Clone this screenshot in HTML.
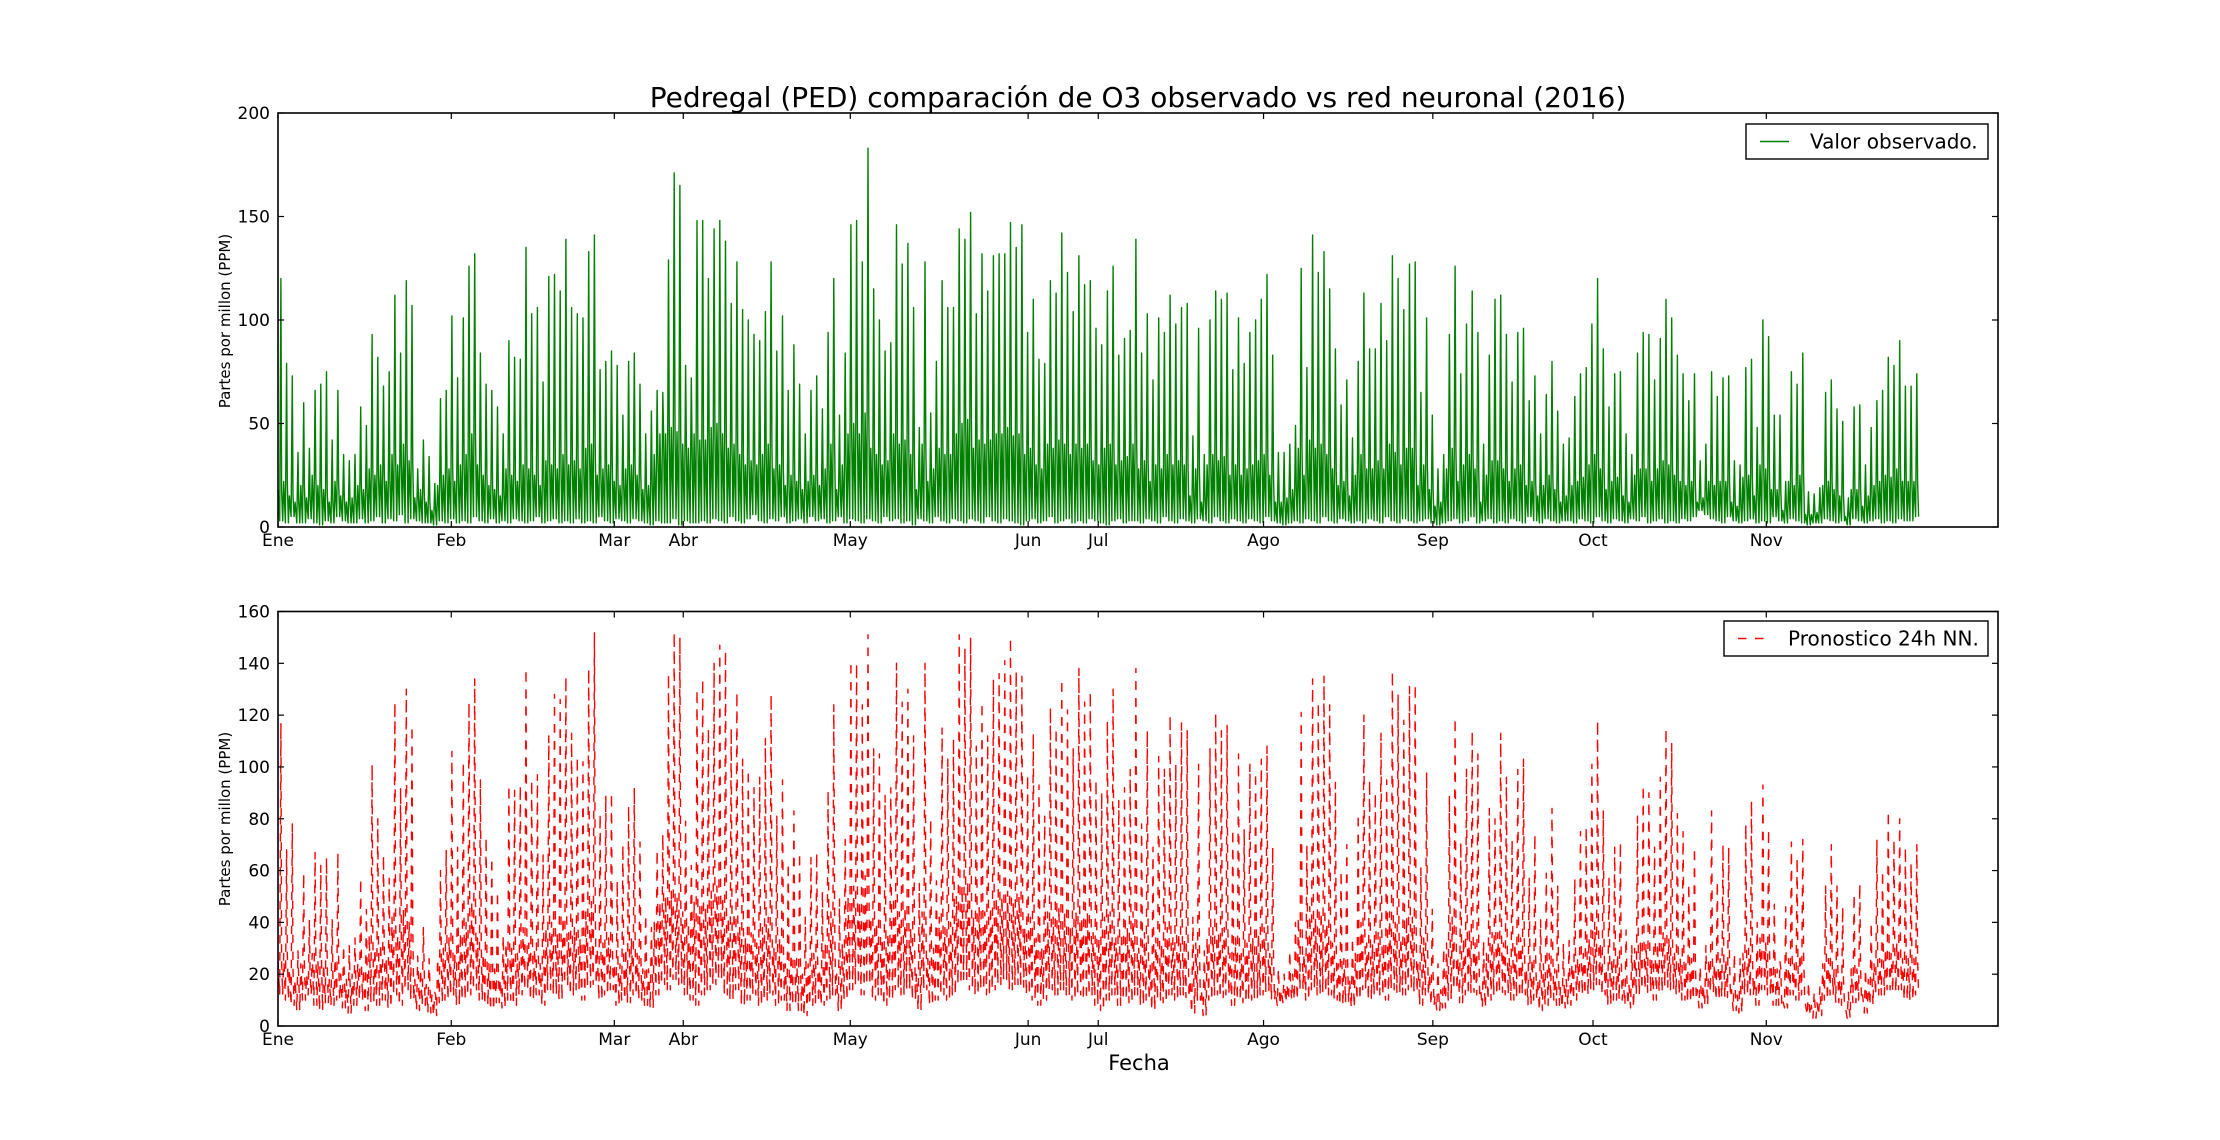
<!DOCTYPE html>
<html><head><meta charset="utf-8">
<style>
html,body{margin:0;padding:0;background:#fff;}
svg{display:block;font-family:"DejaVu Sans","Liberation Sans",sans-serif;}
</style></head>
<body>
<svg id="chart" width="2220" height="1140" viewBox="0 0 2220 1140" xmlns="http://www.w3.org/2000/svg">
<rect width="2220" height="1140" fill="#fff"/>
<text x="1138" y="107" font-size="28" text-anchor="middle" fill="#000">Pedregal (PED) comparación de O3 observado vs red neuronal (2016)</text>
<g id="top"></g>
<g id="bot"></g>
<text transform="translate(230,321) rotate(-90)" font-size="15" text-anchor="middle">Partes por millon (PPM)</text>
<text transform="translate(230,819) rotate(-90)" font-size="15" text-anchor="middle">Partes por millon (PPM)</text>
<text x="1139" y="1070" font-size="21" text-anchor="middle">Fecha</text>
</svg>
<script>
const monthLabels=["Ene","Feb","Mar","Abr","May","Jun","Jul","Ago","Sep","Oct","Nov"];
const monthTicks=[0,30.4,59.0,71.1,100.4,131.6,143.9,172.9,202.6,230.7,261.1];
const topYTicks=[0,50,100,150,200];
const botYTicks=[0,20,40,60,80,100,120,140,160];
const obsPeak=[120,79,73,36,60,38,66,69,75,42,66,35,32,35,58,49,93,82,68,75,112,84,119,107,28,42,34,21,62,66,102,72,101,126,132,84,69,66,58,45,90,82,81,135,103,106,70,121,122,114,139,106,103,101,133,141,76,80,85,78,54,80,84,69,45,56,66,65,129,171,165,78,72,148,148,
120,144,148,138,108,128,105,100,93,90,104,128,85,102,66,88,69,45,66,73,57,94,120,54,84,146,148,128,183,115,100,85,89,146,127,137,106,48,128,55,80,119,106,106,144,139,152,103,132,114,131,132,132,147,135,146,94,110,81,79,119,113,142,123,104,131,117,119,96,88,114,126,83,91,95,
139,84,103,71,101,94,112,98,106,108,44,96,35,100,114,110,113,76,101,79,94,100,110,122,83,36,36,40,49,125,77,141,123,133,115,86,59,71,43,80,113,86,86,108,90,131,120,105,127,128,65,101,54,28,35,93,126,74,98,114,94,40,83,110,112,93,70,94,96,61,73,45,64,80,56,40,
43,63,74,77,98,120,86,58,74,75,45,35,84,94,93,71,91,110,101,83,74,61,74,32,40,75,63,72,73,32,30,77,81,48,100,92,54,54,22,75,69,84,17,16,19,65,71,57,51,14,58,59,30,48,61,66,82,78,90,68,68,74];
const obsLow=[3,2,5,2,2,4,2,1,3,2,5,3,2,2,4,2,3,5,2,4,3,6,2,4,3,2,2,1,3,2,4,2,3,2,5,3,2,4,2,3,2,4,3,2,3,5,2,3,4,2,3,2,4,2,3,2,5,3,2,4,3,2,4,3,2,1,3,2,2,4,1,3,2,2,3,
2,4,3,2,5,3,2,4,6,3,2,4,3,5,2,3,4,2,5,3,4,2,3,5,2,4,3,2,4,3,2,5,3,4,2,3,1,4,3,2,5,3,2,4,3,2,4,3,2,5,3,2,4,3,2,1,3,4,2,3,5,2,3,4,2,3,2,4,3,2,1,3,4,2,3,
3,2,4,3,2,5,3,2,4,3,2,4,3,2,5,3,2,4,3,2,4,3,2,5,3,2,1,2,3,2,4,3,2,5,3,2,4,3,2,3,2,4,3,2,5,3,2,4,3,2,3,4,2,1,2,3,4,2,3,5,2,3,4,2,3,2,4,3,2,5,3,2,4,3,2,3,
3,2,4,3,2,5,3,2,4,3,2,4,3,5,2,3,4,2,3,2,4,3,5,8,6,4,3,2,5,3,2,3,4,2,3,2,5,3,2,4,3,2,1,2,2,4,3,2,3,1,4,3,2,3,4,2,3,2,4,3,3,5];
const obsMid=[18,22,15,12,20,14,25,20,18,12,22,15,12,14,20,18,28,25,30,22,35,30,40,32,14,18,12,8,20,25,28,22,30,35,45,30,25,20,18,15,28,25,22,30,28,25,20,32,30,28,35,30,32,28,38,40,25,28,30,22,20,28,30,25,18,20,35,45,45,48,46,40,38,45,42,
42,48,50,45,38,40,35,30,32,30,35,40,28,30,20,25,22,18,22,25,20,28,40,18,30,45,50,45,55,38,35,30,32,45,40,42,35,18,40,22,28,38,35,35,45,50,52,38,42,40,42,45,45,48,44,45,35,38,30,28,40,38,42,40,35,40,38,40,32,30,38,40,30,32,34,
40,28,32,22,30,28,35,30,32,30,15,28,12,30,35,32,34,25,30,25,28,30,32,35,25,12,12,14,18,38,25,42,38,40,35,28,20,22,15,25,35,28,28,32,28,40,36,30,38,38,20,30,18,10,12,28,38,22,30,35,28,12,25,32,32,28,22,28,30,20,22,15,20,25,18,12,
15,20,22,24,30,35,28,18,22,24,15,12,25,28,28,22,28,32,30,25,22,20,22,12,14,22,20,22,22,12,10,24,25,15,30,28,18,18,8,22,20,25,6,6,7,20,22,18,15,5,18,18,10,15,20,22,25,24,28,22,22,22];
const nnPeak=[117,68,78,29,59,41,67,62,65,41,67,31,31,34,57,45,101,80,66,57,125,92,130,116,27,38,26,13,60,68,106,69,102,125,134,95,73,65,52,35,93,91,93,138,95,97,66,112,128,126,135,113,104,102,138,152,82,89,90,56,70,85,92,71,43,38,68,74,136,152,150,79,62,130,134,
115,140,147,145,115,129,103,99,92,96,111,128,81,95,63,83,67,42,65,67,52,91,124,49,72,141,140,124,151,107,105,89,92,140,125,130,112,55,140,80,56,115,103,111,151,146,150,108,125,112,134,136,141,150,137,135,97,113,93,81,123,115,134,122,107,138,125,129,95,90,118,130,87,92,99,
138,78,114,69,104,99,120,101,117,114,42,101,29,107,121,114,116,76,105,76,101,98,103,108,69,22,20,29,40,121,70,134,125,135,124,94,60,70,34,82,120,95,90,113,95,137,128,118,131,132,61,98,45,24,30,89,119,71,99,114,105,33,84,80,113,96,72,99,103,57,74,41,59,84,54,32,
33,57,75,77,101,118,83,57,69,71,37,31,81,93,90,69,96,115,109,82,75,55,69,23,31,83,56,70,69,28,26,78,87,40,93,76,47,25,46,71,65,72,17,13,15,54,70,54,46,13,51,55,22,40,72,60,83,72,80,69,63,70];
const nnLow=[12,10,8,6,10,12,8,6,9,8,10,7,5,8,10,6,9,8,10,7,12,8,14,10,6,8,5,4,9,10,12,8,10,12,14,10,8,6,9,7,10,8,12,14,10,12,8,14,12,10,16,12,14,10,15,16,10,12,14,8,10,9,12,10,8,7,12,16,14,18,16,12,10,8,12,
14,16,18,12,10,14,8,10,12,8,10,12,8,10,6,8,6,4,8,9,8,10,12,6,10,14,16,12,16,10,12,8,10,14,12,14,10,6,14,8,10,12,10,12,16,18,14,12,14,12,14,16,18,14,16,15,12,10,8,10,14,12,14,12,10,12,10,12,8,6,10,12,8,10,9,
12,8,10,6,10,9,12,10,12,11,5,10,4,10,12,11,12,8,10,9,10,11,12,13,10,8,9,10,10,14,10,14,12,13,12,10,8,9,7,10,14,10,12,12,10,14,13,12,14,13,8,12,8,6,7,10,14,9,12,13,12,7,10,12,13,12,10,11,12,8,10,6,8,10,8,7,
8,10,12,12,14,16,12,8,10,10,8,7,12,14,13,10,13,15,14,12,10,9,10,7,8,13,10,11,11,6,5,12,12,8,14,12,8,8,7,12,10,12,4,3,4,10,12,9,8,3,9,10,5,8,12,12,14,13,14,10,10,12];
const nnMid=[25,28,22,18,24,20,28,25,24,18,26,20,18,20,24,22,35,30,32,26,42,35,45,40,18,22,16,12,26,30,34,28,36,40,48,34,28,24,22,18,32,30,28,38,32,30,24,38,40,36,42,36,38,34,44,48,30,32,34,24,24,30,34,28,22,22,40,48,50,52,50,44,40,48,46,
46,52,54,50,42,44,38,34,36,32,38,42,30,34,24,28,26,20,24,28,22,32,44,20,32,50,54,48,58,42,40,34,36,50,44,46,38,20,44,26,30,42,38,40,50,54,56,42,46,44,46,50,50,52,48,50,38,42,34,30,44,42,46,44,38,44,42,44,36,34,42,44,34,36,38,
44,30,36,24,34,32,38,34,36,34,18,32,14,34,38,36,38,28,34,28,32,34,36,38,28,14,14,16,20,42,28,46,42,44,40,32,24,26,18,28,40,32,32,36,32,44,40,34,42,42,24,34,20,12,14,32,42,26,34,38,32,14,28,36,36,32,26,32,34,22,26,18,24,28,22,15,
18,24,26,28,34,40,32,22,26,28,18,16,30,32,32,26,32,36,34,28,26,24,26,14,16,26,24,26,26,14,12,28,30,18,34,32,22,22,10,26,24,28,8,8,9,24,26,22,18,7,22,22,12,18,24,26,30,28,32,26,26,26];

const NS="http://www.w3.org/2000/svg";
const X0=278,X1=1998,DMAX=301.75;
function xs(d){return X0+(d/DMAX)*(X1-X0);}
function mkY(top,bot,max){return v=>bot-(v/max)*(bot-top);}
function el(tag,attrs,parent){const e=document.createElementNS(NS,tag);for(const k in attrs)e.setAttribute(k,attrs[k]);parent.appendChild(e);return e;}

function panel(g,top,bot,max,yticks,peak,low,mid,color,dash,legendText,legendBox){
  const ys=mkY(top,bot,max);
  let pts=[];
  for(let i=0;i<peak.length;i++){
    pts.push([xs(i),ys(mid[i])]);
    pts.push([xs(i+0.3),ys(low[i])]);
    pts.push([xs(i+0.5),ys(peak[i])]);
    pts.push([xs(i+0.64),ys(mid[i])]);
    pts.push([xs(i+0.82),ys(low[i])]);
  }
  const p=el("polyline",{points:pts.map(q=>q[0].toFixed(1)+","+q[1].toFixed(1)).join(" "),fill:"none",stroke:color,"stroke-width":"1.4","stroke-linejoin":"round"},g);
  if(dash)p.setAttribute("stroke-dasharray",dash);
  
  
  const fr=el("rect",{x:X0,y:top,width:X1-X0,height:bot-top,fill:"none",stroke:"#000","stroke-width":"1.6"},g);
  
  
  yticks.forEach(v=>{
    const y=ys(v);
    el("line",{x1:X0,x2:X0+6,y1:y,y2:y,stroke:"#000","stroke-width":"1.2"},g);
    el("line",{x1:X1,x2:X1-6,y1:y,y2:y,stroke:"#000","stroke-width":"1.2"},g);
    const t=el("text",{x:X0-8,y:y+6,"font-size":"17","text-anchor":"end"},g);
    t.textContent=v;
    
    
  });
  monthTicks.forEach((d,i)=>{
    const x=xs(d);
    el("line",{x1:x,x2:x,y1:bot,y2:bot-6,stroke:"#000","stroke-width":"1.2"},g);
    el("line",{x1:x,x2:x,y1:top,y2:top+6,stroke:"#000","stroke-width":"1.2"},g);
    const t=el("text",{x:x,y:bot+19,"font-size":"17","text-anchor":"middle"},g);
    t.textContent=monthLabels[i];
    
    
  });
  const lg=el("g",{},g);
  
  
  el("rect",{x:legendBox[0],y:legendBox[1],width:legendBox[2],height:legendBox[3],fill:"#fff",stroke:"#000","stroke-width":"1.4"},lg);
  const ly=legendBox[1]+legendBox[3]/2;
  const ll=el("line",{x1:legendBox[0]+14,x2:legendBox[0]+43,y1:ly,y2:ly,stroke:color,"stroke-width":"1.4"},lg);
  if(dash)ll.setAttribute("stroke-dasharray",dash);
  const lt=el("text",{x:legendBox[0]+64,y:ly+7,"font-size":"20"},lg);
  lt.textContent=legendText;
  
  
}
panel(document.getElementById("top"),113,527,200,topYTicks,obsPeak,obsLow,obsMid,"#008000",null,"Valor observado.",[1746,124,242,35]);
panel(document.getElementById("bot"),611.5,1026,160,botYTicks,nnPeak,nnLow,nnMid,"#ff0000","8.5 8.5","Pronostico 24h NN.",[1724,621,264,35]);
</script>
</body></html>
